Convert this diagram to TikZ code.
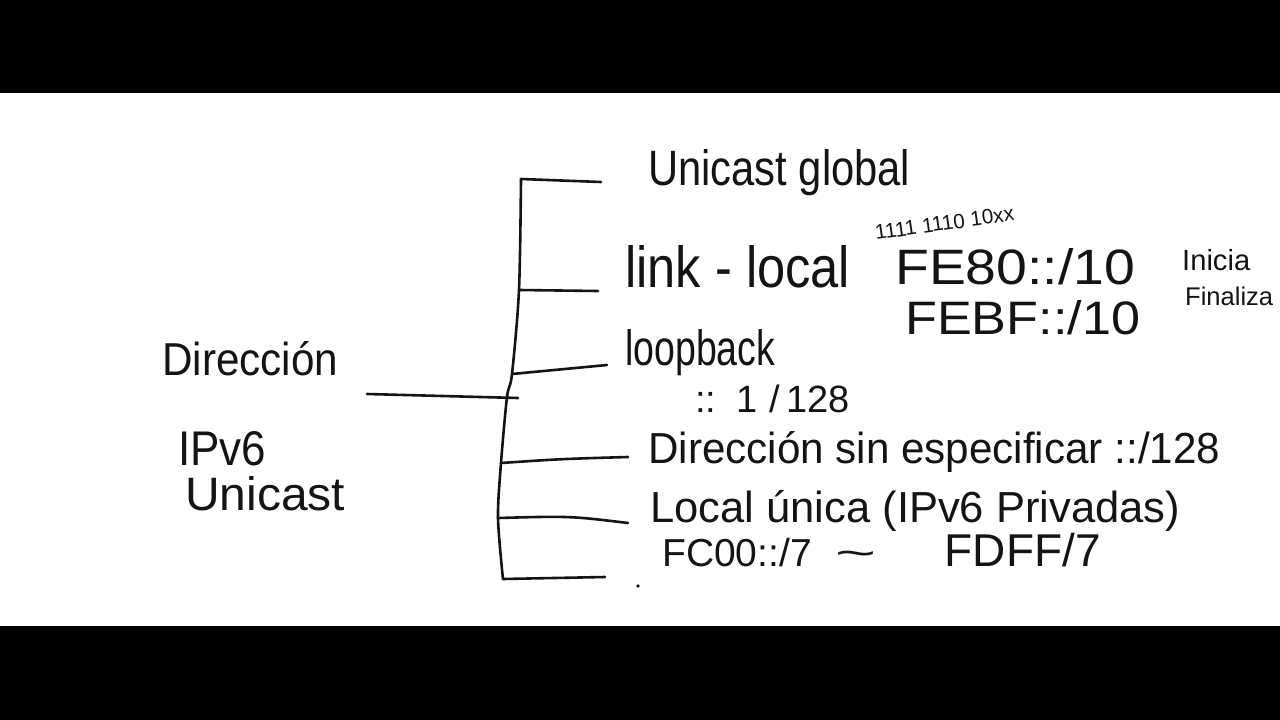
\documentclass[tikz,border=0pt]{standalone}
\usepackage{fontspec}
\usepackage{graphicx}
\setmainfont{Liberation Sans}
\newcommand\fw[2]{\resizebox{#1pt}{!}{#2}}
\newcommand\fwh[3]{\resizebox{#1pt}{#2pt}{#3}}
\begin{document}
\begin{tikzpicture}[x=1pt,y=-1pt,
  lab/.style={anchor=base west,inner sep=0pt,font=\fontsize{40}{48}\selectfont,text=black!92},
  ink/.style={line width=2.6pt,line cap=round,line join=round,black!92}]
\useasboundingbox (0,0) rectangle (1280,720);
\fill[black] (0,0) rectangle (1280,720);
\fill[white] (0,93) rectangle (1280,626);

% texts
\node[lab] (dir)  at (162,375) {\fwh{176}{34}{Dirección}};
\node[lab] (ipv6) at (178,465) {\fwh{88}{34}{IPv6}};
\node[lab] (uc)   at (185,510) {\fwh{160}{34}{Unicast}};

\node[lab] (ug)   at (648,185) {\fwh{262}{36}{Unicast global}};
\node[lab] (ll)   at (625,287) {\fwh{225}{42}{link - local}};
\node[lab,rotate=8] (bits) at (876,240) {\fw{140}{1111 1110 10xx}};
\node[lab] (fe80) at (895,284) {\fwh{240}{36}{FE80::/10}};
\node[lab] (ini)  at (1182,270) {\fw{68}{Inicia}};
\node[lab] (febf) at (905,334) {\fwh{235}{34}{FEBF::/10}};
\node[lab] (fin)  at (1185,305) {\fw{88}{Finaliza}};
\node[lab] (lb)   at (625,365) {\fwh{150}{36}{loopback}};
\node[lab,font=\fontsize{38}{44}\selectfont] (lb2) at (695,412)
  {::\hspace{20pt}1\hspace{12pt}/\hspace{6pt}128};
\node[lab] (ds)   at (648,463) {\fwh{572}{32}{Dirección sin especificar ::/128}};
\node[lab] (lu)   at (650,522) {\fwh{530}{32}{Local única (IPv6 Privadas)}};
\node[lab,font=\fontsize{39}{44}\selectfont] (fc) at (662,566)
  {FC00::/7\hspace{24pt}\scalebox{1.8}[1]{\textasciitilde}\hspace{68pt}{\fontsize{46}{50}\selectfont FDFF/7}};

% bracket
\coordinate (b1) at (521,179);
\coordinate (b2) at (519,290);
\coordinate (b3) at (512,374);
\coordinate (bj) at (507,397);
\coordinate (b5) at (501,463);
\coordinate (b6) at (498,518);
\coordinate (b7) at (503,579);
\coordinate (e1) at (601,182);
\coordinate (e2) at (598,291);
\coordinate (e3) at (607,365);
\coordinate (e5) at (628,457);
\coordinate (e6) at (628,523);
\coordinate (e7) at (605,577);
\coordinate (r0) at (367,394);
\coordinate (r1) at (518,398);

\draw[ink] plot[smooth,tension=0.5] coordinates {(b1) (b2) (b3) (bj) (b5) (b6) (b7)};
\draw[ink] (b1) -- (e1);
\draw[ink] (b2) -- (e2);
\draw[ink] (b3) -- (e3);
\draw[ink] (b5) .. controls (560,459) .. (e5);
\draw[ink] (b6) .. controls (570,516) .. (e6);
\draw[ink] (b7) -- (e7);
\draw[ink] (r0) -- (r1);
\fill[black!92] (638,586) circle (1.8);
\end{tikzpicture}
\end{document}
